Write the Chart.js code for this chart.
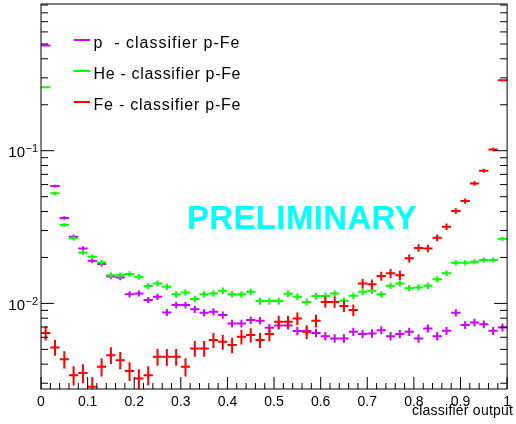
<!DOCTYPE html>
<html>
<head>
<meta charset="utf-8">
<script src="https://cdn.jsdelivr.net/npm/chart.js@4.4.1/dist/chart.umd.min.js"></script>
<style>
  html, body { margin: 0; padding: 0; background: #ffffff; }
  #wrap { width: 516px; height: 424px; }
</style>
</head>
<body>
<div id="wrap"><canvas id="c" width="516" height="424"></canvas></div>
<script>
// Classifier output distributions (normalised histograms, 50 bins on [0,1])
const binCenters = [0.01,0.03,0.05,0.07,0.09,0.11,0.13,0.15,0.17,0.19,
                    0.21,0.23,0.25,0.27,0.29,0.31,0.33,0.35,0.37,0.39,
                    0.41,0.43,0.45,0.47,0.49,0.51,0.53,0.55,0.57,0.59,
                    0.61,0.63,0.65,0.67,0.69,0.71,0.73,0.75,0.77,0.79,
                    0.81,0.83,0.85,0.87,0.89,0.91,0.93,0.95,0.97,0.99];
const binHalfWidth = 0.01;

const pValues = [0.488,0.0587,0.0362,0.0273,0.0229,0.0190,0.0181,0.0150,0.0148,0.01146,
                 0.01163,0.01052,0.01105,0.00873,0.00975,0.00975,0.00914,0.00868,0.00881,0.00838,
                 0.00739,0.00739,0.00778,0.00770,0.00692,0.00717,0.00717,0.00659,0.00659,0.00641,
                 0.00610,0.00590,0.00590,0.00651,0.00630,0.00636,0.00668,0.00610,0.00630,0.00651,
                 0.00590,0.00686,0.00610,0.00661,0.00868,0.00721,0.00750,0.00731,0.00661,0.00696];

const heValues = [0.260,0.0526,0.0326,0.0267,0.0215,0.0202,0.0185,0.0153,0.0153,0.0156,
                  0.01496,0.01298,0.01352,0.01285,0.01146,0.0118,0.01067,0.01146,0.01163,0.0121,
                  0.0115,0.01146,0.0119,0.01035,0.01035,0.01035,0.01156,0.01105,0.01023,0.01116,
                  0.01116,0.01163,0.0104,0.01122,0.0119,0.0121,0.01146,0.01303,0.01352,0.01259,
                  0.01273,0.01303,0.01442,0.01573,0.01845,0.01845,0.01875,0.01923,0.01923,0.0265];

const feValues = [0.0064,0.00515,0.0043,0.00339,0.0035,0.00285,0.00385,0.00458,0.00425,0.00361,
                  0.00322,0.00339,0.00447,0.00447,0.00447,0.00385,0.00507,0.00507,0.00575,0.00561,
                  0.00533,0.00604,0.0062,0.00575,0.0063,0.00757,0.00757,0.00797,0.00651,0.00769,
                  0.01023,0.01023,0.0096,0.00904,0.01352,0.01336,0.0151,0.01573,0.0153,0.01972,
                  0.0231,0.0229,0.0269,0.0318,0.0403,0.0468,0.0611,0.0739,0.102,0.289];

// Number of events behind each normalised histogram (sets the Poisson error bars)
const pEntries = 40000;
const heEntries = 35000;
const feEntries = 14000;

const seriesLabels = ['p  - classifier p-Fe', 'He - classifier p-Fe', 'Fe - classifier p-Fe'];
const seriesColors = ['#cc00ff', '#00ff00', '#ff0000'];

const yMin = 0.00275, yMax = 0.914;
const xTickLabels = ['0','0.1','0.2','0.3','0.4','0.5','0.6','0.7','0.8','0.9','1'];

function toPoints(values, entries) {
  return values.map((v, i) => ({ x: binCenters[i], y: v, err: Math.sqrt(v / entries) }));
}

const FONT = '"Liberation Sans", Arial, Helvetica, sans-serif';

// draws a text so that it occupies a given width
function fitText(ctx, text, xLeft, yBase, width) {
  ctx.letterSpacing = '0px';
  const w = ctx.measureText(text).width;
  const n = Math.max(1, text.length - 1);
  const ls = Math.max(0, (width - w) / n);
  ctx.letterSpacing = ls.toFixed(2) + 'px';
  ctx.textAlign = 'left';
  ctx.fillText(text, xLeft, yBase);
  ctx.letterSpacing = '0px';
}

const rootStyle = {
  id: 'rootStyle',
  afterDatasetsDraw(chart) {
    const { ctx, chartArea: a, scales: { x, y } } = chart;
    ctx.save();
    ctx.beginPath();
    ctx.rect(a.left, a.top, a.right - a.left, a.bottom - a.top);
    ctx.clip();
    ctx.lineWidth = 2;
    ctx.lineCap = 'butt';
    chart.data.datasets.forEach(ds => {
      ctx.strokeStyle = ds.borderColor;
      ds.data.forEach(pt => {
        const px = x.getPixelForValue(pt.x);
        const py = y.getPixelForValue(pt.y);
        const x0 = x.getPixelForValue(pt.x - binHalfWidth);
        const x1 = x.getPixelForValue(pt.x + binHalfWidth);
        const yHi = y.getPixelForValue(pt.y + pt.err);
        const yLo = y.getPixelForValue(Math.max(pt.y - pt.err, 1e-6));
        ctx.beginPath();
        ctx.moveTo(x0, py); ctx.lineTo(x1, py);
        ctx.moveTo(px, yHi); ctx.lineTo(px, yLo);
        ctx.stroke();
      });
    });
    ctx.restore();
  },
  afterDraw(chart) {
    const { ctx, chartArea: a, scales: { x, y } } = chart;
    ctx.save();

    // frame
    ctx.strokeStyle = '#000';
    ctx.lineWidth = 1;
    ctx.strokeRect(a.left, a.top, a.right - a.left, a.bottom - a.top);

    // x ticks (inside, bottom)
    ctx.beginPath();
    for (let k = 0; k <= 50; k++) {
      const px = x.getPixelForValue(k / 50);
      const len = (k % 5 === 0) ? 12 : 6;
      ctx.moveTo(px, a.bottom); ctx.lineTo(px, a.bottom - len);
    }
    // y ticks (inside, left and right)
    for (let e = -3; e <= -1; e++) {
      for (let m = 1; m <= 9; m++) {
        const v = m * Math.pow(10, e);
        if (v < yMin || v > yMax) continue;
        const py = y.getPixelForValue(v);
        const len = (m === 1) ? 13 : 7;
        ctx.moveTo(a.left, py); ctx.lineTo(a.left + len, py);
        ctx.moveTo(a.right, py); ctx.lineTo(a.right - len, py);
      }
    }
    ctx.stroke();

    // y tick labels 10^-1, 10^-2
    ctx.fillStyle = '#000';
    [[0.1, '\u22121'], [0.01, '\u22122']].forEach(([v, exp]) => {
      const py = y.getPixelForValue(v);
      ctx.font = '15px ' + FONT;
      ctx.textAlign = 'right';
      ctx.fillText('10', 25, py + 6.5);
      ctx.font = '11px ' + FONT;
      ctx.textAlign = 'left';
      ctx.fillText(exp, 25.5, py + 1.5);
    });

    // axis title
    ctx.font = '14px ' + FONT;
    ctx.fillStyle = '#000';
    fitText(ctx, 'classifier output', 412, 415, 101);

    // legend
    const rows = [40, 71, 102];
    ctx.font = '16px ' + FONT;
    chart.data.datasets.forEach((ds, i) => {
      ctx.strokeStyle = ds.borderColor;
      ctx.lineWidth = 2;
      ctx.beginPath();
      ctx.moveTo(74, rows[i]); ctx.lineTo(90, rows[i]);
      ctx.stroke();
      ctx.fillStyle = '#000';
      fitText(ctx, ds.label, 93.5, rows[i] + 8, i === 0 ? 146 : 147);
    });

    // watermark
    ctx.font = 'bold 33px ' + FONT;
    ctx.fillStyle = '#00ffff';
    fitText(ctx, 'PRELIMINARY', 187, 228.5, 229.5);

    ctx.restore();
  }
};

new Chart(document.getElementById('c'), {
  type: 'scatter',
  data: {
    datasets: [
      { label: seriesLabels[0], data: toPoints(pValues, pEntries), borderColor: seriesColors[0], backgroundColor: seriesColors[0] },
      { label: seriesLabels[1], data: toPoints(heValues, heEntries), borderColor: seriesColors[1], backgroundColor: seriesColors[1] },
      { label: seriesLabels[2], data: toPoints(feValues, feEntries), borderColor: seriesColors[2], backgroundColor: seriesColors[2] }
    ]
  },
  options: {
    responsive: false,
    animation: false,
    devicePixelRatio: 1,
    showLine: false,
    elements: { point: { radius: 0, hoverRadius: 0 } },
    layout: { padding: { left: 0, right: 2, top: 4, bottom: 0 } },
    plugins: { legend: { display: false }, tooltip: { enabled: false } },
    scales: {
      x: {
        type: 'linear', min: 0, max: 1,
        grid: { display: false, drawTicks: false },
        border: { display: false },
        ticks: {
          stepSize: 0.1, autoSkip: false, maxRotation: 0, padding: 5,
          color: '#000', font: { family: FONT, size: 14 },
          callback: (v) => xTickLabels[Math.round(v * 10)]
        },
        afterFit: (s) => { s.height = 35; }
      },
      y: {
        type: 'logarithmic', min: yMin, max: yMax,
        grid: { display: false, drawTicks: false },
        border: { display: false },
        ticks: { display: false },
        afterFit: (s) => { s.width = 41; }
      }
    }
  },
  plugins: [rootStyle]
});
</script>
</body>
</html>
